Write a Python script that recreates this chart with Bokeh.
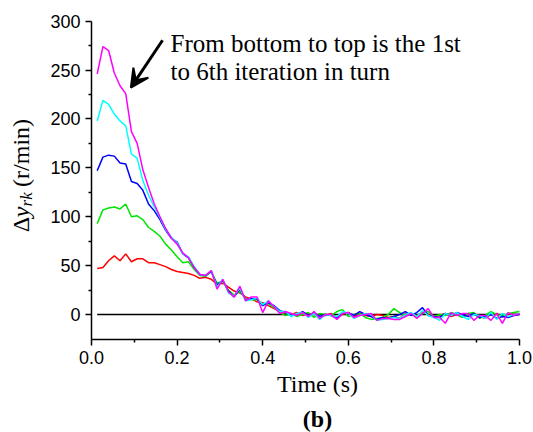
import numpy as np
from bokeh.plotting import figure
from bokeh.models import Range1d, FixedTicker, Label, Arrow, VeeHead, LinearAxis
from bokeh.embed import file_html
from bokeh.resources import INLINE

# ---------------- data ----------------
time_s = [round((k + 1) / 75, 4) for k in range(75)]

iter1_red = [47, 48, 55, 60, 55, 62, 54, 57, 57, 53, 53, 51, 49, 46, 44, 43, 42, 40, 37, 38,
             36, 31, 32, 28, 24, 22, 18, 16, 13, 12, 9, 6, 3,
             1, 0, 2, -1, 1, 0, -2, -1, 1, -3, 0, 2, -2, 1, -1, -2, 0, -1, -3, -2,
             -4, 1, 0, -1, 2, 0, -2, -1, 1, -2, 0, -3, 1, 0, -2, -4, 0, 1, -2, 0, 1, 0]
iter2_green = [93, 107, 109, 110, 108, 113, 100, 101, 97, 89, 85, 80, 72, 66, 59, 53, 54, 46, 40, 39,
               44, 32, 34, 25, 20, 24, 16, 15, 15, 11, 11, 7, 2,
               -1, 1, -2, 0, 2, -3, 1, 0, -1, 3, 5, -2, 0, 1, -3, -5, -4, -3, 0, 6,
               2, -1, 0, -2, 1, 3, -2, 0, -1, 2, 0, -3, 1, 2, -4, -1, 3, 0, -2, 1, 2, 3]
iter3_blue = [147, 161, 163, 162, 155, 154, 136, 134, 127, 113, 106, 97, 86, 78, 74, 62, 58, 48, 41, 40,
              44, 30, 35, 24, 18, 26, 15, 16, 16, 9, 12, 9, 4,
              2, -1, 0, 3, -1, 2, -2, 0, -1, -4, 1, 2, -1, 3, 0, -2, -5, -3, -4, -2,
              0, 3, -1, 2, 7, -1, -2, -3, 1, -1, 2, 0, -2, 1, -3, -2, 0, -4, -2, -3, -1, 0]
iter4_cyan = [198, 219, 215, 205, 198, 193, 164, 160, 137, 122, 110, 99, 87, 79, 73, 62, 59, 49, 41, 40,
              45, 28, 36, 22, 19, 27, 14, 15, 17, 10, 14, 8, 3,
              3, -2, 1, 2, -3, 1, -5, 0, -1, -2, 3, 1, -4, -1, 1, 0, -6, -5, -4, -3,
              -4, 0, 2, -2, 4, -1, -3, -6, 1, -1, 2, -2, -5, 0, -1, -4, 2, -5, 1, -2, 0, 1]
iter5_magenta = [246, 274, 270, 247, 234, 226, 187, 175, 148, 130, 113, 100, 88, 78, 72, 63, 58, 48, 41, 40,
                 45, 26, 36, 23, 18, 29, 14, 18, 18, 2, 14, 8, 1,
                 3, 1, -1, 2, -2, 3, -4, 0, 0, -5, 1, 2, -3, -1, 0, 1, -6, -4, -4, -5,
                 -5, -2, 1, -4, 1, 6, -3, -3, -9, 2, -1, 1, 1, -6, -1, -1, -6, 1, -9, 2, -1, 1]
zero_line = [0] * 75

series = [
    (iter1_red, "#ff0000"),
    (iter2_green, "#00e600"),
    (iter3_blue, "#0000ff"),
    (iter4_cyan, "#00ffff"),
    (iter5_magenta, "#ff00ff"),
]

x_ticks = [0.0, 0.2, 0.4, 0.6, 0.8, 1.0]
x_minor = [0.1, 0.3, 0.5, 0.7, 0.9]
y_ticks = [0, 50, 100, 150, 200, 250, 300]
y_minor = [25, 75, 125, 175, 225, 275]
x_axis_span = (0.0, 1.0)
y_axis_span = (-25.6, 300.0)

# ---------------- figure ----------------
# frame covers the whole canvas; axes are pinned at fixed data locations
p = figure(width=533, height=432,
           x_range=Range1d(-0.2126, 1.0327), y_range=Range1d(-120.7, 321.2),
           x_axis_type=None, y_axis_type=None,
           output_backend="svg", toolbar_location=None,
           min_border_left=0, min_border_right=0, min_border_top=0, min_border_bottom=0)
p.xgrid.visible = False
p.ygrid.visible = False
p.outline_line_color = None
p.background_fill_color = "white"
p.border_fill_color = "white"

p.line(time_s, zero_line, line_color="black", line_width=1.5)
for ys, col in series:
    p.line(time_s, ys, line_color=col, line_width=1.5)

xaxis = LinearAxis(fixed_location=y_axis_span[0], bounds=x_axis_span,
                   ticker=FixedTicker(ticks=x_ticks, minor_ticks=x_minor))
yaxis = LinearAxis(fixed_location=x_axis_span[0], bounds=y_axis_span,
                   ticker=FixedTicker(ticks=y_ticks, minor_ticks=y_minor))
xaxis.major_label_overrides = {v: f"{v:.1f}" for v in x_ticks}
for ax in (xaxis, yaxis):
    ax.axis_line_width = 1.5
    ax.axis_line_color = "black"
    ax.major_tick_line_width = 1.5
    ax.minor_tick_line_width = 1.5
    ax.major_tick_line_color = "black"
    ax.minor_tick_line_color = "black"
    ax.major_tick_out = 6
    ax.major_tick_in = 0
    ax.minor_tick_out = 3
    ax.minor_tick_in = 0
    ax.major_label_text_font = "Liberation Sans"
    ax.major_label_text_font_size = "18px"
    ax.major_label_text_color = "black"
    ax.major_label_standoff = 5
p.add_layout(xaxis, "below")
p.add_layout(yaxis, "left")

serif = "Liberation Serif"

# x axis title and panel tag
p.add_layout(Label(x=0.528, y=-71.1, text="Time (s)", text_font=serif, text_font_size="24px",
                   text_align="center", text_baseline="alphabetic", text_color="black"))
p.add_layout(Label(x=0.528, y=-106.9, text="(b)", text_font=serif, text_font_size="24px",
                   text_font_style="bold", text_align="center", text_baseline="alphabetic",
                   text_color="black"))

# y axis title: Δ y_rk (r/min), rotated
ylab_x = -0.1636
rot = np.pi / 2
p.add_layout(Label(x=ylab_x, y=84.2, text="Δ", angle=rot, text_font=serif, text_font_size="24px",
                   text_align="left", text_baseline="alphabetic", text_color="black"))
p.add_layout(Label(x=ylab_x, y=99.5, text="y", angle=rot, text_font=serif, text_font_size="24px",
                   text_font_style="italic", text_align="left", text_baseline="alphabetic",
                   text_color="black"))
p.add_layout(Label(x=ylab_x + 0.0117, y=110.5, text="rk", angle=rot, text_font=serif,
                   text_font_size="17px", text_font_style="italic", text_align="left",
                   text_baseline="alphabetic", text_color="black"))
p.add_layout(Label(x=ylab_x, y=130.5, text="(r/min)", angle=rot, text_font=serif,
                   text_font_size="24px", text_align="left", text_baseline="alphabetic",
                   text_color="black"))

# annotation
p.add_layout(Label(x=0.1846, y=277.5, text="From bottom to top is the 1st", text_font=serif,
                   text_font_size="25px", text_align="left", text_baseline="alphabetic",
                   text_color="black"))
p.add_layout(Label(x=0.1846, y=248.8, text="to 6th iteration in turn", text_font=serif,
                   text_font_size="25px", text_align="left", text_baseline="alphabetic",
                   text_color="black"))
p.add_layout(Arrow(x_start=0.166, y_start=280.5, x_end=0.092, y_end=232,
                   line_width=3, line_color="black",
                   end=VeeHead(size=18, fill_color="black", line_color="black", line_width=2)))

open("out.html", "w").write(file_html(p, INLINE))
